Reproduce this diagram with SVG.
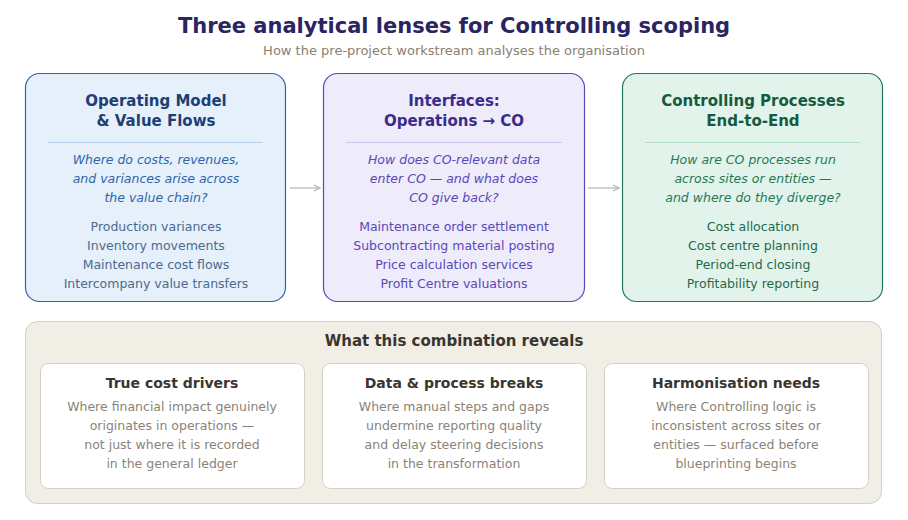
<svg xmlns="http://www.w3.org/2000/svg" width="908" height="520" viewBox="0 0 908 520">
<style>
text{font-family:"DejaVu Sans",sans-serif;text-anchor:middle}
.t{font-size:15px;font-weight:bold}
.q{font-size:12.5px;font-style:italic}
.i{font-size:12.5px}
.ct{font-size:14px;font-weight:bold;fill:#3a3530}
.cd{font-size:12.5px;fill:#8a8378}
.card{fill:#fff;stroke:#d4cfc6;stroke-width:1}
</style>
<defs><marker id="ah" markerWidth="8" markerHeight="8" refX="7" refY="4" orient="auto" markerUnits="userSpaceOnUse"><path d="M1,1 L7,4 L1,7" fill="none" stroke="#b8b4ac" stroke-width="1.2"/></marker></defs>
<rect width="908" height="520" fill="#fff"/>
<g id="title">
<text x="454" y="33" style="font-size:21px;font-weight:bold;fill:#2a2460">Three analytical lenses for Controlling scoping</text>
<text x="454" y="55" style="font-size:13px;fill:#8a8070">How the pre-project workstream analyses the organisation</text>
</g>
<g id="lens1">
<rect x="25.5" y="73.5" width="260" height="228" rx="14" fill="#e5f0fb" stroke="#2f65a8" stroke-width="1.2"/>
<text class="t" x="156" y="106" fill="#1c3f75">Operating Model</text>
<text class="t" x="156" y="126" fill="#1c3f75">&amp; Value Flows</text>
<line x1="48" y1="142.5" x2="263" y2="142.5" stroke="#b8d0ea"/>
<text class="q" x="156" y="164" fill="#2f65a8">Where do costs, revenues,</text>
<text class="q" x="156" y="183" fill="#2f65a8">and variances arise across</text>
<text class="q" x="156" y="202" fill="#2f65a8">the value chain?</text>
<text class="i" x="156" y="231" fill="#4a6a90">Production variances</text>
<text class="i" x="156" y="250" fill="#4a6a90">Inventory movements</text>
<text class="i" x="156" y="269" fill="#4a6a90">Maintenance cost flows</text>
<text class="i" x="156" y="288" fill="#4a6a90">Intercompany value transfers</text>
</g>
<g id="lens2">
<rect x="323.5" y="73.5" width="261" height="228" rx="14" fill="#eeebfb" stroke="#5a48b8" stroke-width="1.2"/>
<text class="t" x="454" y="106" fill="#3a2c8a">Interfaces:</text>
<text class="t" x="454" y="126" fill="#3a2c8a">Operations → CO</text>
<line x1="346" y1="142.5" x2="562" y2="142.5" stroke="#cdc6ee"/>
<text class="q" x="454" y="164" fill="#5a48b8">How does CO-relevant data</text>
<text class="q" x="454" y="183" fill="#5a48b8">enter CO — and what does</text>
<text class="q" x="454" y="202" fill="#5a48b8">CO give back?</text>
<text class="i" x="454" y="231" fill="#5a48b8">Maintenance order settlement</text>
<text class="i" x="454" y="250" fill="#5a48b8">Subcontracting material posting</text>
<text class="i" x="454" y="269" fill="#5a48b8">Price calculation services</text>
<text class="i" x="454" y="288" fill="#5a48b8">Profit Centre valuations</text>
</g>
<g id="lens3">
<rect x="622.5" y="73.5" width="260" height="228" rx="14" fill="#e2f3ec" stroke="#1f7a55" stroke-width="1.2"/>
<text class="t" x="753" y="106" fill="#165a3e">Controlling Processes</text>
<text class="t" x="753" y="126" fill="#165a3e">End-to-End</text>
<line x1="645" y1="142.5" x2="860" y2="142.5" stroke="#b8dcca"/>
<text class="q" x="753" y="164" fill="#1f7a55">How are CO processes run</text>
<text class="q" x="753" y="183" fill="#1f7a55">across sites or entities —</text>
<text class="q" x="753" y="202" fill="#1f7a55">and where do they diverge?</text>
<text class="i" x="753" y="231" fill="#1f6a4a">Cost allocation</text>
<text class="i" x="753" y="250" fill="#1f6a4a">Cost centre planning</text>
<text class="i" x="753" y="269" fill="#1f6a4a">Period-end closing</text>
<text class="i" x="753" y="288" fill="#1f6a4a">Profitability reporting</text>
</g>
<g id="connectors" stroke="#b8b4ac" stroke-width="1.2" fill="none">
<line x1="290" y1="188" x2="320" y2="188" marker-end="url(#ah)"/>
<line x1="588" y1="188" x2="619" y2="188" marker-end="url(#ah)"/>
</g>
<g id="reveals">
<rect x="25.5" y="321.5" width="856" height="182" rx="12" fill="#f1eee6" stroke="#d4cfc6"/>
<text x="454" y="346" style="font-size:15px;font-weight:bold;fill:#3a3530">What this combination reveals</text>
</g>
<g id="card1">
<rect class="card" x="40.5" y="363.5" width="264" height="125" rx="8"/>
<text class="ct" x="172" y="388">True cost drivers</text>
<text class="cd" x="172" y="411">Where financial impact genuinely</text>
<text class="cd" x="172" y="430">originates in operations —</text>
<text class="cd" x="172" y="449">not just where it is recorded</text>
<text class="cd" x="172" y="468">in the general ledger</text>
</g>
<g id="card2">
<rect class="card" x="322.5" y="363.5" width="264" height="125" rx="8"/>
<text class="ct" x="454" y="388">Data &amp; process breaks</text>
<text class="cd" x="454" y="411">Where manual steps and gaps</text>
<text class="cd" x="454" y="430">undermine reporting quality</text>
<text class="cd" x="454" y="449">and delay steering decisions</text>
<text class="cd" x="454" y="468">in the transformation</text>
</g>
<g id="card3">
<rect class="card" x="604.5" y="363.5" width="264" height="125" rx="8"/>
<text class="ct" x="736" y="388">Harmonisation needs</text>
<text class="cd" x="736" y="411">Where Controlling logic is</text>
<text class="cd" x="736" y="430">inconsistent across sites or</text>
<text class="cd" x="736" y="449">entities — surfaced before</text>
<text class="cd" x="736" y="468">blueprinting begins</text>
</g>
</svg>
